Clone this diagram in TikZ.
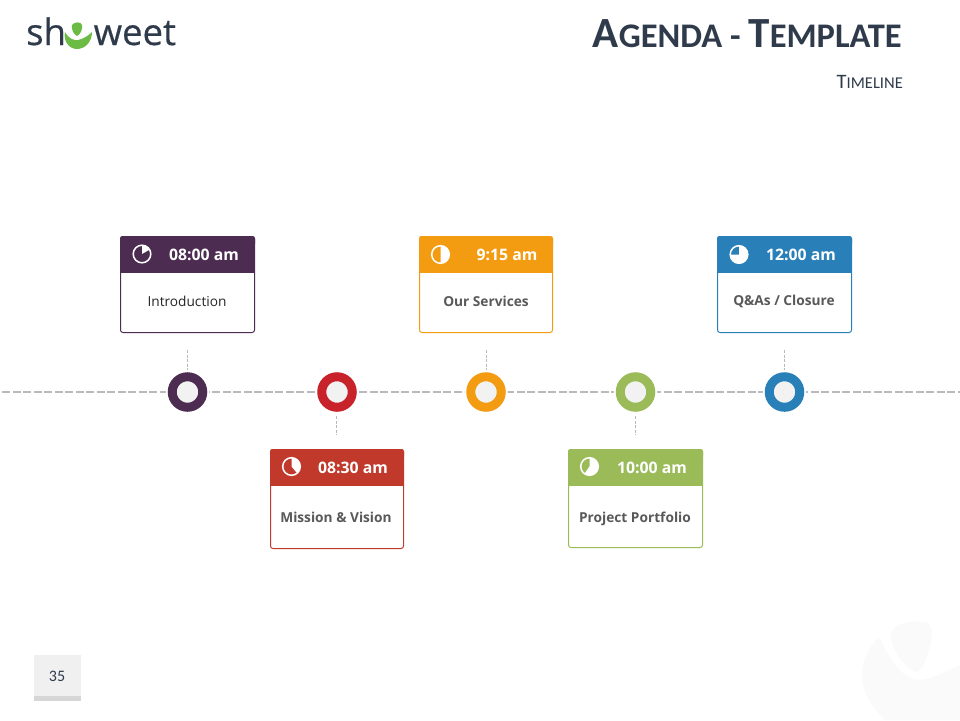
\documentclass[tikz,border=0pt]{standalone}
\usepackage{fontspec}
\setmainfont{Open Sans}
\newfontfamily\titlefont{Carlito}
\newfontfamily\logofont[FakeBold=0.5]{Open Sans}
\usetikzlibrary{calc}
\definecolor{ink}{HTML}{2F3B4B}
\definecolor{bodytxt}{HTML}{595959}
\definecolor{cPurple}{HTML}{4D2C52}
\definecolor{cRedH}{HTML}{C0392B}
\definecolor{cRedR}{HTML}{C8222A}
\definecolor{cOrange}{HTML}{F39C12}
\definecolor{cGreen}{HTML}{9BBB59}
\definecolor{cBlue}{HTML}{2980B9}
\definecolor{leaf}{HTML}{6CBB45}
\definecolor{wm}{HTML}{FAFAFA}
\tikzset{
  x=1pt,y=-1pt,
  cardbox/.style={draw=#1,line width=1pt,fill=white,rounded corners=2.5pt,inner sep=0pt,outer sep=0pt},
  timetxt/.style={text=white,font=\fontsize{15.8}{17}\selectfont\bfseries,inner sep=0pt,anchor=base},
  bodylabel/.style={font=\fontsize{13.7}{15}\selectfont\bfseries,text=bodytxt,inner sep=0pt,anchor=base},
  ringdot/.style={circle,draw=#1,line width=9pt,fill=black!5,minimum size=30.5pt,inner sep=0pt,outer sep=0pt},
  halo/.style={circle,fill=white,minimum size=43.5pt,inner sep=0pt},
  mainline/.style={draw=black!27,line width=1.7pt,dash pattern=on 8pt off 2.5pt},
  stub/.style={draw=black!27,line width=.8pt,dash pattern=on 3pt off 1.5pt},
}
\newcommand{\clockicon}[3]{% x,y,end: white wedge clockwise from 12 o'clock
  \draw[white,line width=1.5pt] (#1,#2) circle[radius=8.8];
  \fill[white] (#1,#2) -- ++(-90:8.8) arc[start angle=-90,end angle=#3,radius=8.8] -- cycle;
}
\newcommand{\card}[8]{% name,xleft,ytop,h,color,time,timex,bodywidth
  \node[cardbox=#5,minimum width=#8pt,minimum height=#4pt,anchor=north west] (#1) at (#2+.5,#3+.5) {};
  \fill[#5,rounded corners=2.5pt] (#2,#3) rectangle (#2+#8+1,#3+10);
  \fill[#5] (#2,#3+5) rectangle (#2+#8+1,#3+37);
  \node[timetxt] (#1t) at (#7,#3+24) {#6};
}
\begin{document}
\begin{tikzpicture}
\useasboundingbox (0,0) rectangle (960,720);
\fill[white] (0,0) rectangle (960,720);
% watermark
\fill[wm] (891,633) .. controls (893,624) and (912,620) .. (925,622) .. controls (931,623) and (933,630) .. (931,640) .. controls (929,652) and (924,668) .. (917,672) .. controls (908,672) and (889,648) .. (891,633) -- cycle;
\fill[wm] (880,638) .. controls (890,662) and (905,680) .. (918,680) .. controls (930,680) and (945,672) .. (960,665) -- (960,720) -- (885,720) .. controls (870,705) and (862,690) .. (862,675) .. controls (862,660) and (870,645) .. (878,638) -- cycle;
% logo
\node[anchor=base west,inner sep=0pt,text=ink,font=\logofont\fontsize{36.5}{38}\selectfont] (logoA) at (26,45) {sh};
\node[anchor=base west,inner sep=0pt,text=ink,font=\logofont\fontsize{36.5}{38}\selectfont] (logoB) at (93.5,45) {weet};
\fill[leaf] (65,32) .. controls (68,38) and (74,41) .. (78,40) .. controls (83,39) and (88,36) .. (92,32) .. controls (92,42) and (85,49) .. (77,49) .. controls (69,49) and (63,41) .. (65,32) -- cycle;
\fill[leaf] (72,25) .. controls (74,22) and (81,21) .. (82,25) .. controls (83,29) and (80,35) .. (77,36) .. controls (74,35) and (71,29) .. (72,25) -- cycle;
% title
\node[anchor=base east,inner sep=0pt,text=ink,font=\titlefont\bfseries] (title) at (902,47)
  {\fontsize{43}{45}\selectfont A\fontsize{34.5}{45}\selectfont GENDA - \fontsize{43}{45}\selectfont T\fontsize{34.5}{45}\selectfont EMPLATE};
\node[anchor=base east,inner sep=0pt,text=ink,font=\titlefont] (sub) at (903,88)
  {\fontsize{20.5}{22}\selectfont T\fontsize{16.5}{22}\selectfont IMELINE};
% timeline
\coordinate (lineL) at (2,392);
\coordinate (lineR) at (960,392);
\draw[mainline] (lineL) -- (lineR);
\foreach \n/\cx/\col in {a/187.5/cPurple,b/337/cRedR,c/486/cOrange,d/635.5/cGreen,e/784.5/cBlue}{
  \node[halo] at (\cx,392) {};
  \node[ringdot=\col] (dot\n) at (\cx,392) {};
}
% cards
\card{ca}{120}{236}{96}{cPurple}{08:00 am}{204}{134}
\card{cb}{270}{449}{99}{cRedH}{08:30 am}{353}{133}
\card{cc}{419}{236}{96}{cOrange}{9:15 am}{507}{133}
\card{cd}{568}{449}{98}{cGreen}{10:00 am}{652}{134}
\card{ce}{717}{236}{96}{cBlue}{12:00 am}{801}{134}
% labels
\node[bodylabel,text=black!85,font=\fontsize{13.7}{15}\selectfont] (la) at (187,306) {Introduction};
\node[bodylabel] (lb) at (336,522) {Mission \& Vision};
\node[bodylabel] (lc) at (486,306) {Our Services};
\node[bodylabel] (ld) at (635,522) {Project Portfolio};
\node[bodylabel] (le) at (784,305) {Q\&As / Closure};
% stubs
\foreach \n/\cx in {a/187.5,c/486.5,e/784.5}{
  \coordinate (s\n) at (\cx,350);
  \draw[stub] (s\n) -- (\cx,370);
}
\foreach \n/\cx in {b/336.5,d/635.5}{
  \coordinate (s\n) at (\cx,416);
  \draw[stub] (s\n) -- (\cx,435);
}
% icons
\clockicon{142}{254}{-30}
\clockicon{291.5}{466.5}{50}
\clockicon{440.5}{254.5}{90}
\clockicon{589.5}{466.5}{125}
\clockicon{739}{254.5}{180}
% page number
\fill[black!6] (34,655) rectangle (81,696);
\fill[black!16] (34,696) rectangle (81,701);
\node[inner sep=0pt,text=ink,font=\titlefont\fontsize{16}{18}\selectfont] (pg) at (57,676) {35};
\end{tikzpicture}
\end{document}
